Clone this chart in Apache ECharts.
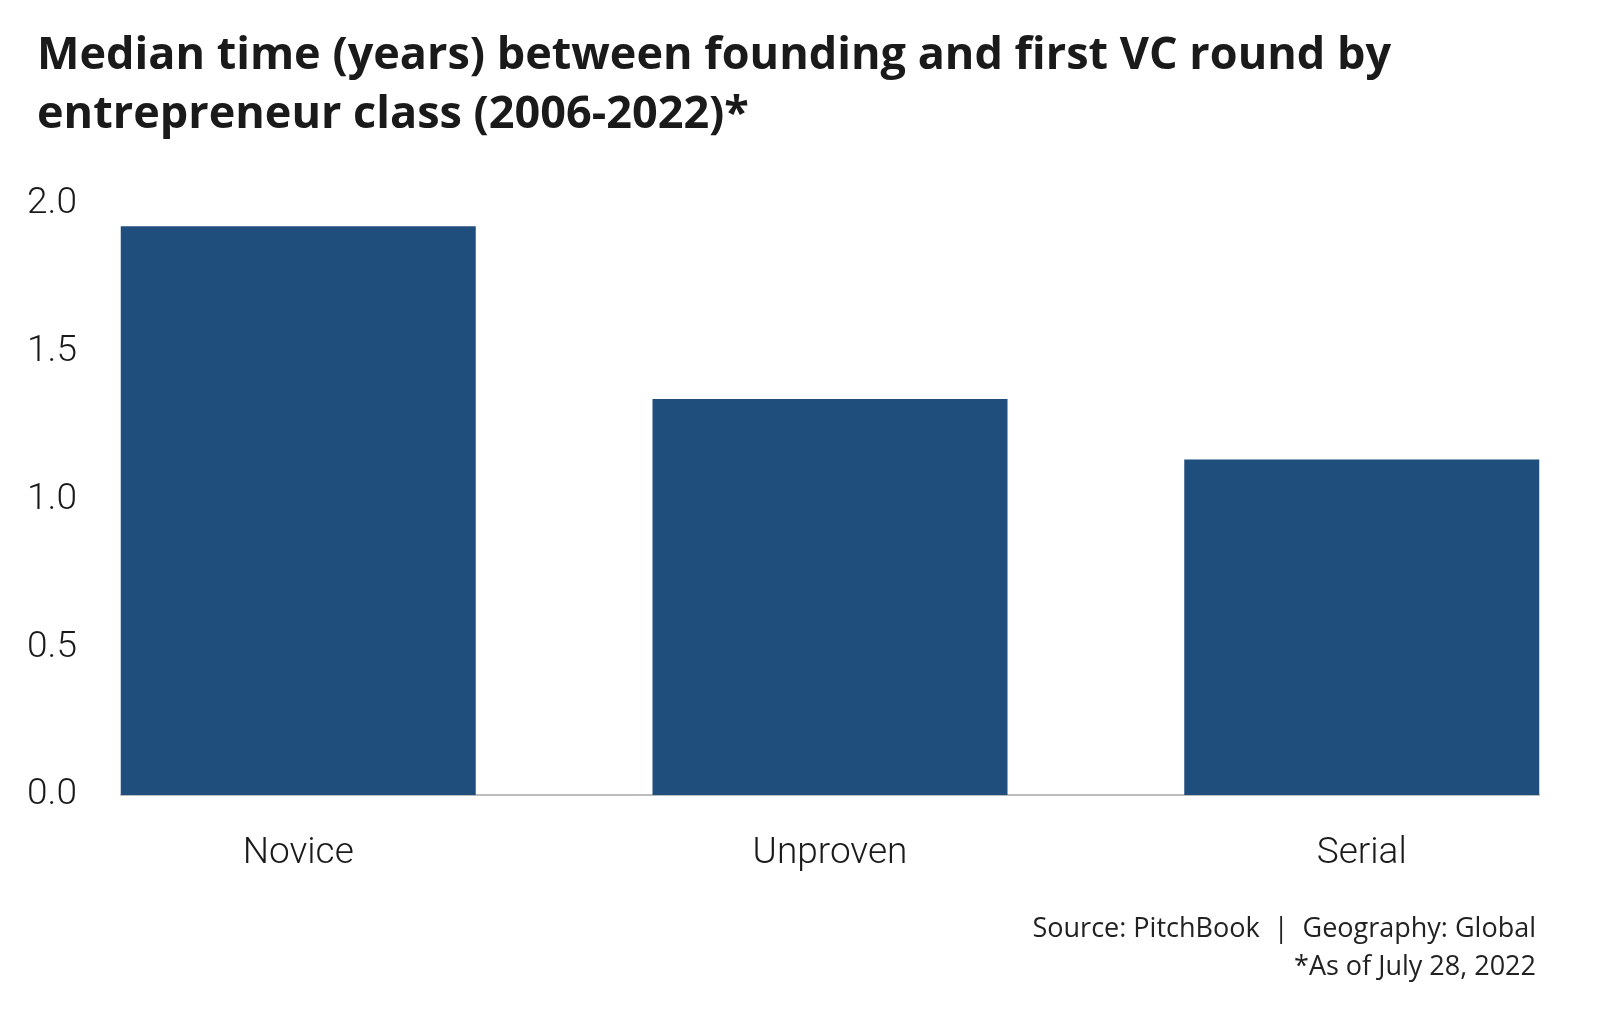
<!DOCTYPE html>
<html>
<head>
<meta charset="utf-8">
<script src="https://cdn.jsdelivr.net/npm/echarts@6/dist/echarts.min.js"></script>
<style>
html,body{margin:0;padding:0;background:#fff;}
#chart{width:1600px;height:1030px;}
</style>
</head>
<body>
<div id="chart"></div>
<script>
const categories = ['Novice', 'Unproven', 'Serial'];
const values = [1.925, 1.34, 1.135];
const yTicks = [0, 0.5, 1.0, 1.5, 2.0];
const titleLines = ['Median time (years) between founding and first VC round by', 'entrepreneur class (2006-2022)*'];
const sourceLines = ['Source: PitchBook  |  Geography: Global', '*As of July 28, 2022'];

const chart = echarts.init(document.getElementById('chart'));
const condensed = "'Roboto', sans-serif";
const noteStyle = { fontFamily: "'Open Sans', 'Noto Sans', sans-serif", fontWeight: 'normal', fontSize: 27, lineHeight: 38, color: '#222' };
chart.setOption({
  backgroundColor: '#ffffff',
  animation: false,
  title: [
    {
      text: titleLines.join('\n'),
      left: 32, top: 22,
      textStyle: { fontFamily: "'Open Sans', 'Noto Sans', sans-serif", fontWeight: 'bold', fontSize: 45, lineHeight: 59, color: '#1a1a1a' }
    },
    { text: sourceLines[0], right: 59, top: 905, textStyle: noteStyle },
    { text: sourceLines[1], right: 59, top: 943, textStyle: noteStyle }
  ],
  grid: { left: 121, right: 61, top: 204, bottom: 235, containLabel: false },
  xAxis: {
    type: 'value',
    min: -1 / 3,
    max: 7 / 3,
    splitLine: { show: false },
    axisTick: { show: false },
    axisLine: { show: true, onZero: false, lineStyle: { color: '#bdbdbd', width: 2 } },
    axisLabel: {
      customValues: [0, 1, 2],
      formatter: v => categories[Math.round(v)] || '',
      margin: 40,
      fontFamily: condensed,
      fontWeight: 300,
      fontSize: 37,
      color: '#1a1a1a'
    }
  },
  yAxis: {
    type: 'value',
    min: 0, max: 2, interval: 0.5,
    splitLine: { show: false },
    axisLine: { show: false },
    axisTick: { show: false },
    axisLabel: {
      customValues: yTicks,
      formatter: v => v.toFixed(1),
      margin: 44,
      fontFamily: condensed,
      fontWeight: 300,
      fontSize: 37,
      color: '#1a1a1a'
    }
  },
  series: [{
    type: 'bar',
    barWidth: 355,
    data: values.map((v, i) => [i, v]),
    itemStyle: { color: '#1f4e7d' },
    clip: false
  }]
});
</script>
</body>
</html>
